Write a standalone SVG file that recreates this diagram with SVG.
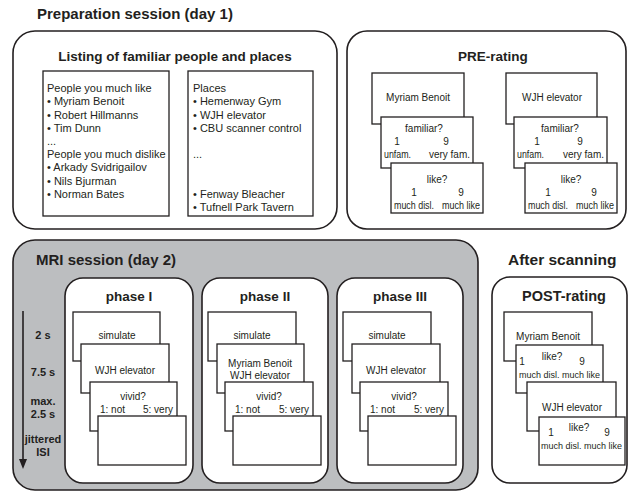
<svg xmlns="http://www.w3.org/2000/svg" width="628" height="493" viewBox="0 0 628 493">
<style>
text{font-family:"Liberation Sans",Arial,sans-serif;fill:#231f20}
.h1{font-size:15px;font-weight:bold}
.h2{font-size:13.5px;font-weight:bold}
.lst{font-size:11px}
.c{font-size:10px}
.s{font-size:9px}
.m{text-anchor:middle}
.e{text-anchor:end}
.tl{font-size:11px;font-weight:bold;text-anchor:middle}
.box{fill:#fff;stroke:#231f20;stroke-width:1.6}
.gbox{fill:#bcbec0;stroke:#231f20;stroke-width:1.6}
.card{fill:#fff;stroke:#231f20;stroke-width:1.3}
</style>
<rect width="628" height="493" fill="#fff"/>

<g id="prep">
<text class="h1" x="37" y="19">Preparation session (day 1)</text>
<rect class="box" x="13" y="31" width="324" height="198" rx="22"/>
<text class="h2 m" x="175" y="61">Listing of familiar people and places</text>
</g>

<g id="list-people">
<rect class="card" x="43" y="71" width="126" height="145"/>
<text class="lst" x="47" y="92">People you much like</text>
<text class="lst" x="47" y="105">• Myriam Benoit</text>
<text class="lst" x="47" y="118.5">• Robert Hillmanns</text>
<text class="lst" x="47" y="132">• Tim Dunn</text>
<text class="lst" x="47" y="145">...</text>
<text class="lst" x="47" y="158">People you much dislike</text>
<text class="lst" x="47" y="171">• Arkady Svidrigailov</text>
<text class="lst" x="47" y="184.5">• Nils Bjurman</text>
<text class="lst" x="47" y="197.5">• Norman Bates</text>
</g>

<g id="list-places">
<rect class="card" x="188" y="71" width="125" height="145"/>
<text class="lst" x="193" y="92">Places</text>
<text class="lst" x="193" y="105">• Hemenway Gym</text>
<text class="lst" x="193" y="118.5">• WJH elevator</text>
<text class="lst" x="193" y="132">• CBU scanner control</text>
<text class="lst" x="193" y="158">...</text>
<text class="lst" x="193" y="197.5">• Fenway Bleacher</text>
<text class="lst" x="193" y="210.5">• Tufnell Park Tavern</text>
</g>

<g id="pre-rating">
<rect class="box" x="347" y="31" width="279" height="198" rx="20"/>
<text class="h2 m" x="493" y="61">PRE-rating</text>
</g>

<g id="pre-stack-1">
<rect class="card" x="372" y="73" width="92" height="51"/>
<text class="c m" x="418" y="101">Myriam Benoit</text>
<rect class="card" x="381" y="117" width="92" height="51"/>
<text class="c m" x="424" y="132">familiar?</text>
<text class="c m" x="397" y="145">1</text>
<text class="c m" x="446" y="145">9</text>
<text class="c" x="384" y="158" textLength="27" lengthAdjust="spacingAndGlyphs">unfam.</text>
<text class="c e" x="470" y="158" textLength="41" lengthAdjust="spacingAndGlyphs">very fam.</text>
<rect class="card" x="391" y="163" width="92" height="50"/>
<text class="c m" x="437" y="183">like?</text>
<text class="c m" x="414" y="196">1</text>
<text class="c m" x="461" y="196">9</text>
<text class="c" x="394" y="208.5" textLength="40" lengthAdjust="spacingAndGlyphs">much disl.</text>
<text class="c e" x="480" y="208.5" textLength="38" lengthAdjust="spacingAndGlyphs">much like</text>
</g>

<g id="pre-stack-2">
<rect class="card" x="506" y="73" width="91" height="51"/>
<text class="c m" x="552" y="101">WJH elevator</text>
<rect class="card" x="514" y="117" width="93" height="51"/>
<text class="c m" x="560" y="132">familiar?</text>
<text class="c m" x="537" y="145">1</text>
<text class="c m" x="580" y="145">9</text>
<text class="c" x="517" y="158" textLength="27" lengthAdjust="spacingAndGlyphs">unfam.</text>
<text class="c e" x="604" y="158" textLength="41" lengthAdjust="spacingAndGlyphs">very fam.</text>
<rect class="card" x="525" y="163" width="92" height="50"/>
<text class="c m" x="571" y="183">like?</text>
<text class="c m" x="548" y="196">1</text>
<text class="c m" x="594" y="196">9</text>
<text class="c" x="528" y="208.5" textLength="40" lengthAdjust="spacingAndGlyphs">much disl.</text>
<text class="c e" x="614" y="208.5" textLength="38" lengthAdjust="spacingAndGlyphs">much like</text>
</g>

<g id="mri">
<rect class="gbox" x="13" y="240" width="465" height="250" rx="22"/>
<text class="h1" x="36" y="265">MRI session (day 2)</text>
</g>

<g id="timeline">
<line x1="23" y1="311" x2="23" y2="460" stroke="#231f20" stroke-width="1.6"/>
<polygon points="19,459 27,459 23,469" fill="#231f20"/>
<text class="tl" x="43" y="339">2 s</text>
<text class="tl" x="43" y="376">7.5 s</text>
<text class="tl" x="43" y="405">max.</text>
<text class="tl" x="43" y="418">2.5 s</text>
<text class="tl" x="43" y="443">jittered</text>
<text class="tl" x="43" y="456">ISI</text>
</g>

<g id="phase1">
<rect class="box" x="65" y="278" width="128" height="205" rx="18"/>
<text class="h2 m" x="129" y="301">phase I</text>
<rect class="card" x="73" y="312" width="87" height="49"/>
<text class="c m" x="117" y="339">simulate</text>
<rect class="card" x="81" y="344" width="88" height="49"/>
<text class="c m" x="125" y="374">WJH elevator</text>
<rect class="card" x="90" y="382" width="87" height="49"/>
<text class="c m" x="133" y="400">vivid?</text>
<text class="c" x="100" y="413">1: not</text>
<text class="c e" x="173" y="413">5: very</text>
<rect class="card" x="98" y="416" width="88" height="49"/>
</g>

<g id="phase2">
<rect class="box" x="202" y="278" width="126" height="205" rx="18"/>
<text class="h2 m" x="265" y="301">phase II</text>
<rect class="card" x="208" y="312" width="88" height="49"/>
<text class="c m" x="252" y="339">simulate</text>
<rect class="card" x="217" y="344" width="87" height="49"/>
<text class="c m" x="260" y="367">Myriam Benoit</text>
<text class="c m" x="260" y="378.5">WJH elevator</text>
<rect class="card" x="225" y="382" width="88" height="49"/>
<text class="c m" x="269" y="400">vivid?</text>
<text class="c" x="235" y="413">1: not</text>
<text class="c e" x="309" y="413">5: very</text>
<rect class="card" x="233" y="416" width="88" height="49"/>
</g>

<g id="phase3">
<rect class="box" x="337" y="278" width="126" height="205" rx="18"/>
<text class="h2 m" x="400" y="301">phase III</text>
<rect class="card" x="343" y="312" width="88" height="49"/>
<text class="c m" x="387" y="339">simulate</text>
<rect class="card" x="352" y="344" width="88" height="49"/>
<text class="c m" x="396" y="374">WJH elevator</text>
<rect class="card" x="360" y="382" width="88" height="49"/>
<text class="c m" x="404" y="400">vivid?</text>
<text class="c" x="370" y="413">1: not</text>
<text class="c e" x="444" y="413">5: very</text>
<rect class="card" x="368" y="416" width="88" height="49"/>
</g>

<g id="after">
<text class="h1" x="508" y="265" style="font-size:15.5px">After scanning</text>
<rect class="box" x="492" y="277" width="135" height="206" rx="18"/>
<text class="h2 m" x="564" y="301" style="font-size:14.5px">POST-rating</text>
</g>

<g id="post-stack">
<rect class="card" x="504" y="312" width="88" height="49"/>
<text class="c m" x="548" y="340">Myriam Benoit</text>
<rect class="card" x="516" y="345" width="87" height="48"/>
<text class="c m" x="522" y="365">1</text>
<text class="c m" x="552" y="360">like?</text>
<text class="c m" x="582" y="365">9</text>
<text class="s m" x="559.5" y="378">much disl. much like</text>
<rect class="card" x="527" y="382" width="89" height="49"/>
<text class="c m" x="572" y="411">WJH elevator</text>
<rect class="card" x="539" y="417" width="86" height="48"/>
<text class="c m" x="551" y="436">1</text>
<text class="c m" x="579" y="431">like?</text>
<text class="c m" x="607" y="436">9</text>
<text class="s m" x="581.5" y="449">much disl. much like</text>
</g>
</svg>
